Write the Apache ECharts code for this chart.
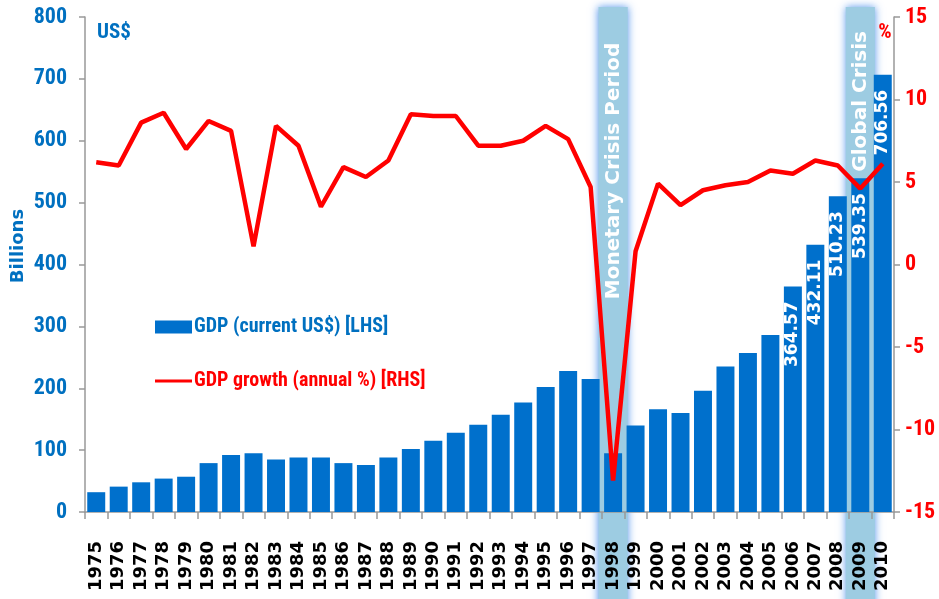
<!DOCTYPE html>
<html>
<head>
<meta charset="utf-8">
<script src="https://cdn.jsdelivr.net/npm/echarts@6/dist/echarts.min.js"></script>
<style>
html,body{margin:0;padding:0;background:#fff;}
#chart{width:939px;height:599px;}
</style>
</head>
<body>
<div id="chart"></div>
<script>
var years = ['1975','1976','1977','1978','1979','1980','1981','1982','1983','1984','1985','1986','1987','1988','1989','1990','1991','1992','1993','1994','1995','1996','1997','1998','1999','2000','2001','2002','2003','2004','2005','2006','2007','2008','2009','2010'];
var gdp = [32, 41, 48, 54, 57, 79, 92, 95, 85, 88, 88, 79, 76, 88, 102, 115, 128, 141, 157, 177, 202, 228, 215, 95, 140, 166, 160, 196, 235, 257, 286, 364.57, 432.11, 510.23, 539.35, 706.56];
var growth = [6.2, 6.0, 8.6, 9.2, 7.0, 8.7, 8.1, 1.1, 8.4, 7.2, 3.5, 5.9, 5.3, 6.3, 9.1, 9.0, 9.0, 7.2, 7.2, 7.5, 8.4, 7.6, 4.7, -13.1, 0.8, 4.9, 3.6, 4.5, 4.8, 5.0, 5.7, 5.5, 6.3, 6.0, 4.6, 6.1];
var labeledYears = ['2006','2007','2008','2009','2010'];
var crisisYears = ['1998','2009'];
var crisisTexts = ['Monetary Crisis Period','Global Crisis'];
var leftTicks = {min:0, max:800, interval:100};
var rightTicks = {min:-15, max:15, interval:5};
var gdpName = 'GDP (current US$) [LHS]';
var growthName = 'GDP growth (annual %) [RHS]';

var NARROW = '"Liberation Sans Narrow", "Roboto Condensed", "Open Sans", Lato, sans-serif';
var BLUE = '#0070C0';
var BAR = '#0070CC';
var RED = '#FF0000';

var chart = echarts.init(document.getElementById('chart'), null, {renderer:'canvas'});

var barData = gdp.map(function(v, i){
  var item = {value: v};
  if (labeledYears.indexOf(years[i]) >= 0) {
    item.label = {show: true};
  }
  return item;
});

var option = {
  animation: false,
  grid: {left: 85, right: 45, top: 17, bottom: 87},
  legend: {
    orient: 'vertical',
    left: 150, top: 312,
    itemWidth: 37, itemHeight: 13, itemGap: 34,
    data: [
      {name: gdpName, icon: 'rect', textStyle: {color: BLUE}},
      {name: growthName, icon: 'path://M0,0 L37,0 L37,3 L0,3 Z', textStyle: {color: RED}}
    ],
    textStyle: {fontFamily: NARROW, fontWeight: 'bold', fontSize: 20, padding: [0,0,0,-3]}
  },
  xAxis: {
    type: 'category',
    data: years,
    boundaryGap: true,
    axisLine: {lineStyle: {color: '#999', width: 1.5}},
    axisTick: {show: true, alignWithLabel: false, length: 7, lineStyle: {color: '#999', width: 1.5}},
    axisLabel: {rotate: 90, interval: 0, margin: 29, color: '#000', fontFamily: '"DejaVu Sans", sans-serif', fontWeight: 'bold', fontSize: 18},
    splitLine: {show: false}
  },
  yAxis: [
    {
      type: 'value', min: leftTicks.min, max: leftTicks.max, interval: leftTicks.interval,
      position: 'left',
      axisLine: {show: true, lineStyle: {color: '#999', width: 1.5}},
      axisTick: {show: true, length: 6, lineStyle: {color: '#999', width: 1.5}},
      axisLabel: {margin: 18, color: BLUE, fontFamily: NARROW, fontWeight: 'bold', fontSize: 22},
      splitLine: {show: false}
    },
    {
      type: 'value', min: rightTicks.min, max: rightTicks.max, interval: rightTicks.interval,
      position: 'right',
      axisLine: {show: true, lineStyle: {color: '#999', width: 1.5}},
      axisTick: {show: true, length: 6, lineStyle: {color: '#999', width: 1.5}},
      axisLabel: {margin: 11, color: RED, fontFamily: NARROW, fontWeight: 'bold', fontSize: 22},
      splitLine: {show: false}
    }
  ],
  series: [
    {
      name: gdpName, type: 'bar', yAxisIndex: 0, data: barData,
      barCategoryGap: '20%',
      itemStyle: {color: BAR},
      z: 3,
      label: {
        show: false, position: 'insideTop', rotate: 90, align: 'right', verticalAlign: 'middle',
        distance: 0, offset: [-15, 0], color: '#fff', fontFamily: '"DejaVu Sans", sans-serif', fontWeight: 'bold', fontSize: 17,
        formatter: function(p){ return Number(p.value).toFixed(2); }
      }
    },
    {
      name: growthName, type: 'line', yAxisIndex: 1, data: growth,
      symbol: 'none', z: 5,
      lineStyle: {color: RED, width: 4.5},
      itemStyle: {color: RED}
    }
  ]
};
chart.setOption(option);

function buildGraphics(){
  var els = [];
  var p0 = chart.convertToPixel({xAxisIndex: 0}, years[0]);
  var p1 = chart.convertToPixel({xAxisIndex: 0}, years[1]);
  var cw = p1 - p0;
  var yTop = chart.convertToPixel({yAxisIndex: 0}, leftTicks.max);
  crisisYears.forEach(function(yr, i){
    var cx = chart.convertToPixel({xAxisIndex: 0}, yr);
    var w = cw * 1.3;
    els.push({
      type: 'rect', z: -10, silent: true,
      shape: {x: cx - w/2, y: yTop - 10, width: w, height: 599 - (yTop - 10) + 10},
      style: {fill: '#9DCCE2', shadowBlur: 8, shadowColor: 'rgba(70,140,235,0.9)'}
    });
    var textY = i === 0 ? chart.convertToPixel({yAxisIndex: 0}, 344) : chart.convertToPixel({yAxisIndex: 0}, 550);
    els.push({
      type: 'text', z: 100, silent: true,
      x: cx + 1, y: textY, rotation: Math.PI/2,
      style: {text: crisisTexts[i], fill: '#fff', fontFamily: '"DejaVu Sans", sans-serif', fontWeight: 'bold', fontSize: 20,
              align: 'left', verticalAlign: 'middle'}
    });
  });
  els.push({type: 'text', x: 97, y: 33, style: {text: 'US$', fill: BLUE, fontFamily: NARROW, fontWeight: 'bold', fontSize: 21, align: 'left', verticalAlign: 'middle'}});
  els.push({type: 'text', x: 885, y: 33, style: {text: '%', fill: RED, fontFamily: NARROW, fontWeight: 'bold', fontSize: 21, align: 'center', verticalAlign: 'middle'}});
  els.push({type: 'text', x: 18, y: 246, rotation: Math.PI/2, style: {text: 'Billions', fill: BLUE, fontFamily: '"DejaVu Sans", sans-serif', fontWeight: 'bold', fontSize: 18, align: 'center', verticalAlign: 'middle'}});
  chart.setOption({graphic: {elements: els}});
}
buildGraphics();
</script>
</body>
</html>
